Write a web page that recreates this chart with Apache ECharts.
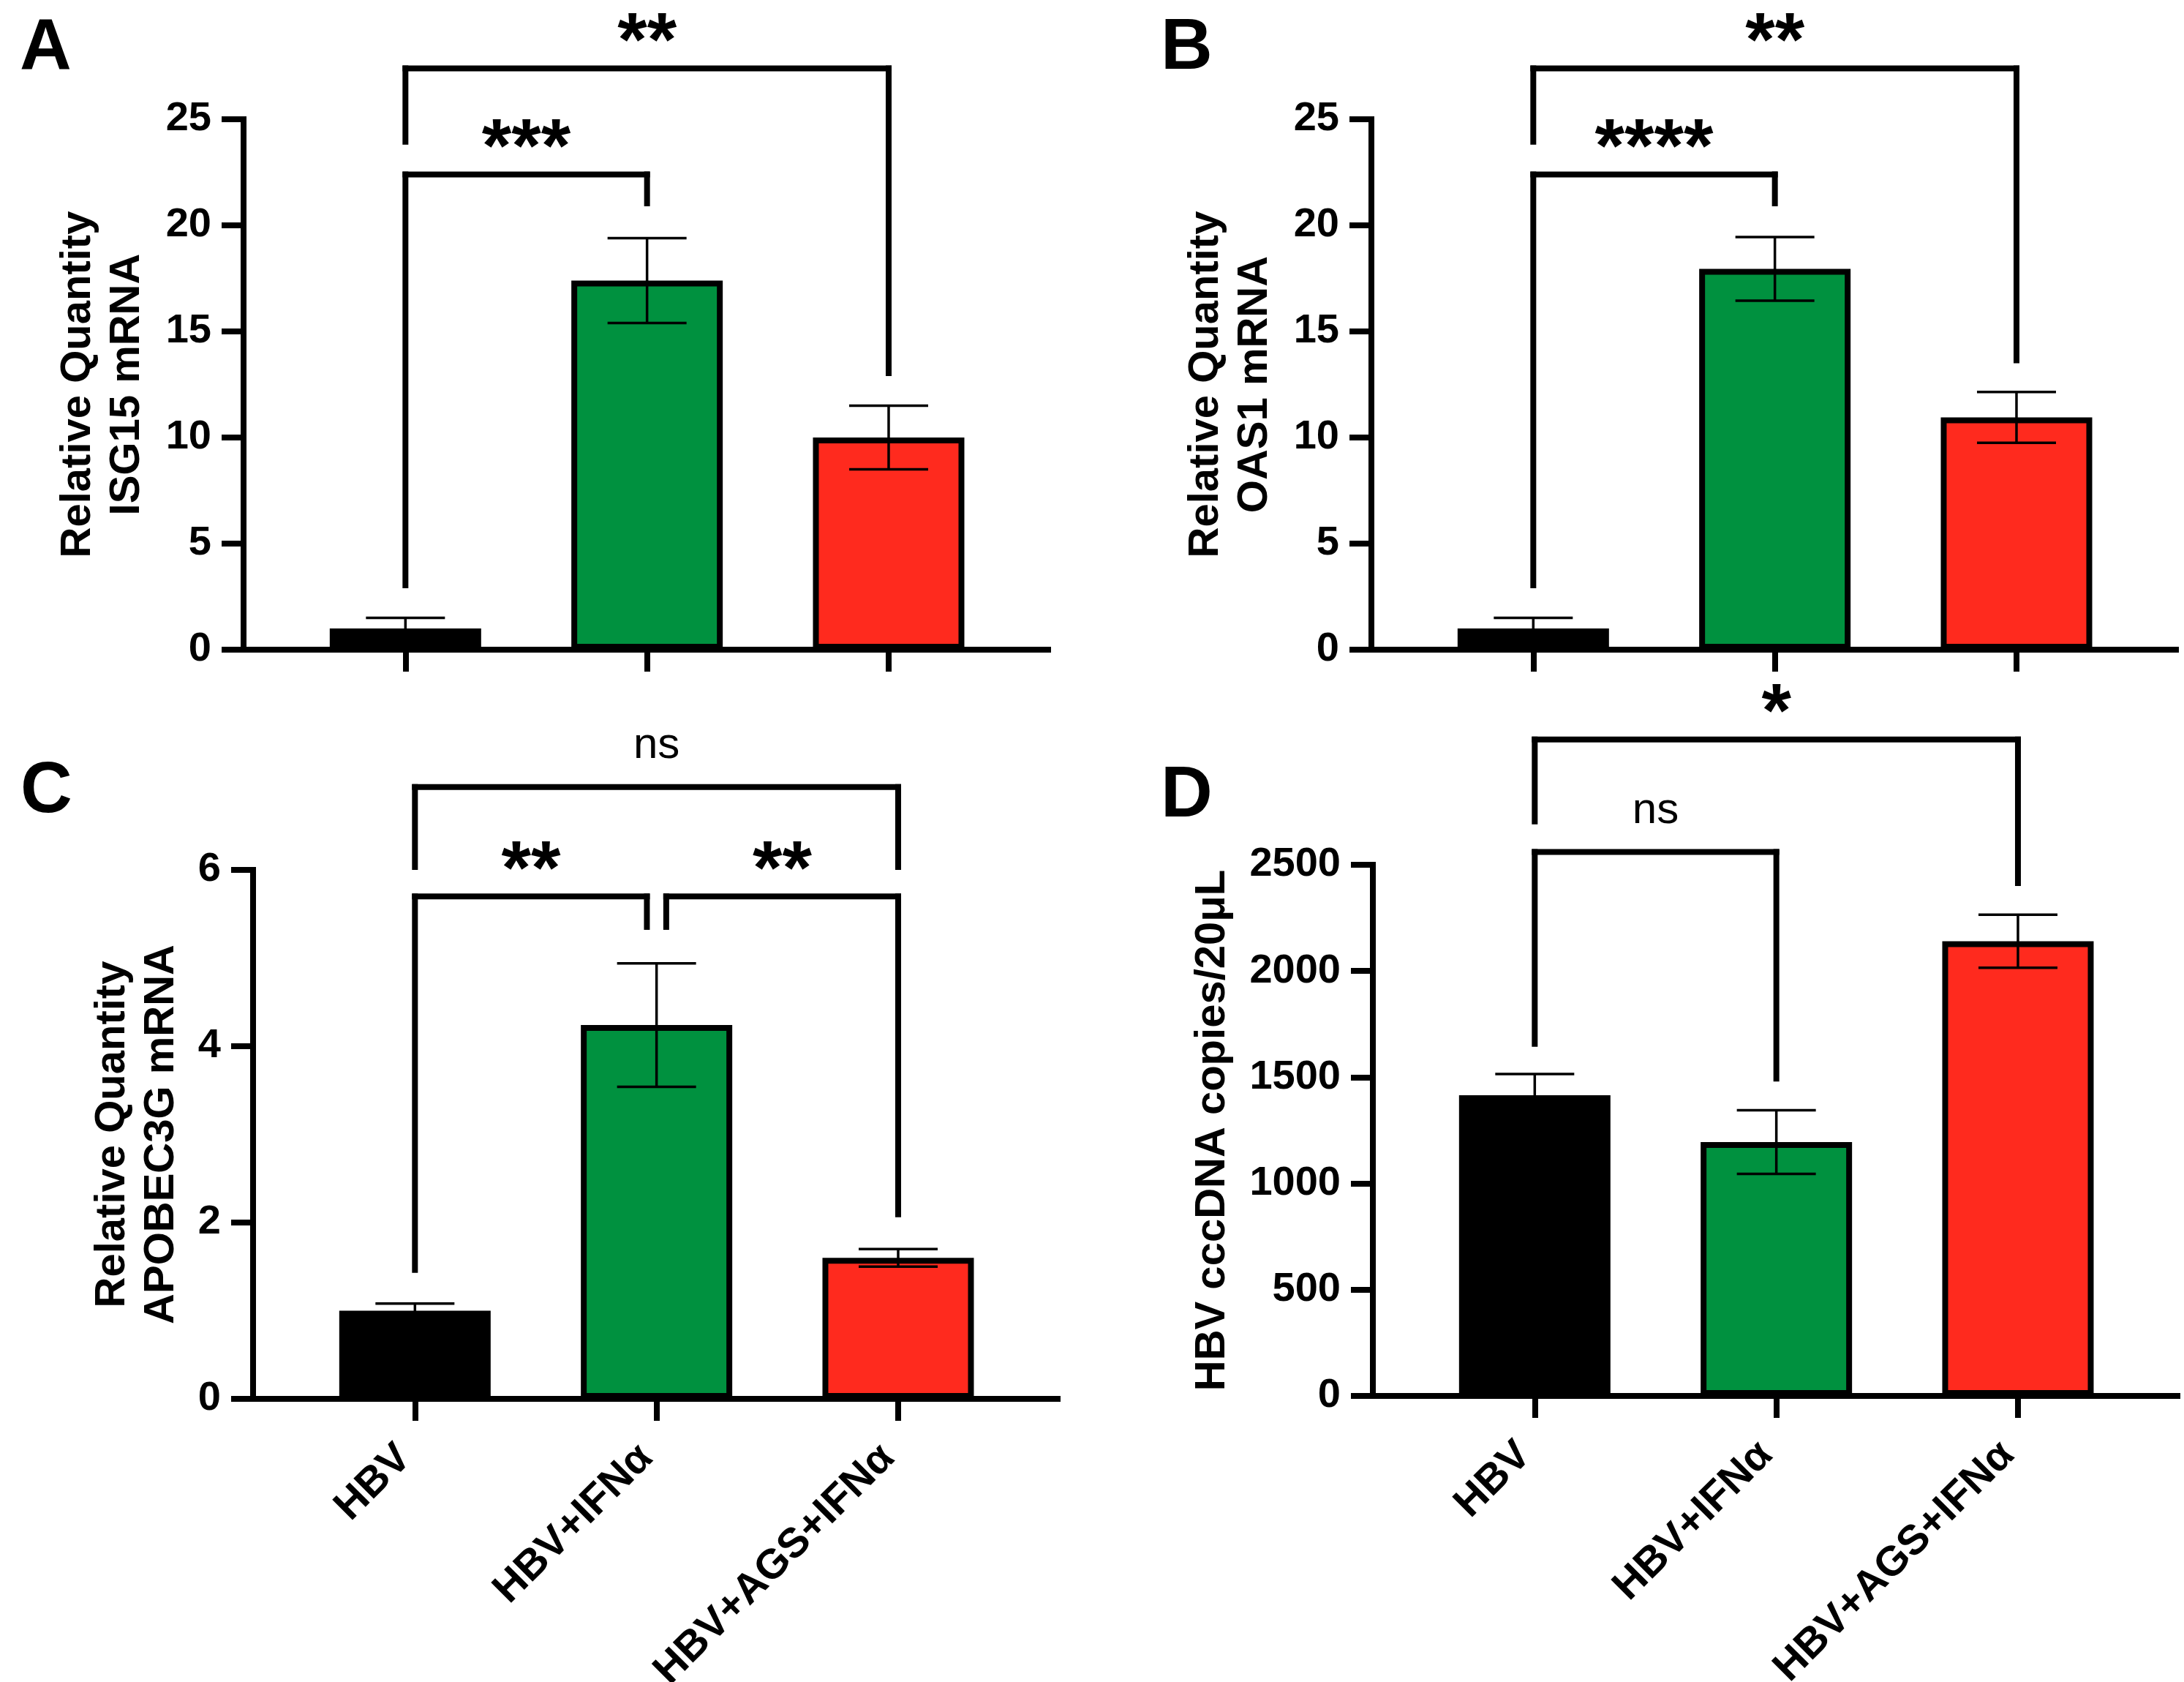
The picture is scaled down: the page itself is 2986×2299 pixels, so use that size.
<!DOCTYPE html>
<html>
<head>
<meta charset="utf-8">
<script src="https://cdn.jsdelivr.net/npm/echarts@6/dist/echarts.min.js"></script>
<style>
  html, body { margin: 0; padding: 0; background: #fff; }
  #chart { width: 2986px; height: 2299px; }
</style>
</head>
<body>
<div id="chart"></div>
<script>
// groups on the x axis (same in every panel)
var groups = ['HBV', 'HBV+IFNα', 'HBV+AGS+IFNα'];
var groupColors = ['#000000', '#00913f', '#ff2a1e'];

// A - ISG15
var isg15Mean = [1.0, 17.4, 10.0];
var isg15Err = [0.5, 2.0, 1.5];
// B - OAS1
var oas1Mean = [1.0, 17.95, 10.95];
var oas1Err = [0.5, 1.5, 1.2];
// C - APOBEC3G
var apobecMean = [1.0, 4.24, 1.6];
var apobecErr = [0.08, 0.7, 0.1];
// D - cccDNA
var cccMean = [1415, 1195, 2140];
var cccErr = [100, 150, 125];

// significance brackets: [xFrom, xTo, yBar, yEndFrom, yEndTo]
var isg15Brackets = [[0, 2, 27.4, 23.8, 12.9], [0, 1, 22.4, 2.9, 20.9]];
var isg15Signif = ['**', '***'];
var oas1Brackets = [[0, 2, 27.4, 23.8, 13.5], [0, 1, 22.4, 2.9, 20.9]];
var oas1Signif = ['**', '****'];
var apobecBrackets = [[0, 2, 6.94, 6.0, 6.0], [0, 0.96, 5.7, 1.43, 5.32], [1.04, 2, 5.7, 5.32, 2.06]];
var apobecSignif = ['ns', '**', '**'];
var cccBrackets = [[0, 2, 3090, 2690, 2400], [0, 1, 2560, 1643, 1480]];
var cccSignif = ['*', 'ns'];

// y axis ticks [min, max, interval]
var ticksA = [0, 25, 5];
var ticksC = [0, 6, 2];
var ticksD = [0, 2500, 500];

var FONT = '"Liberation Sans", Arial, sans-serif';

var dom = document.getElementById('chart');
var myChart = echarts.init(dom, null, {renderer: 'canvas'});

// 每个面板的位置
var panels = [
	{left: 333, top: 163, bottom: 888, name: 'Relative Quantity\nISG15 mRNA', nameGap: 126, ticks: ticksA,
	 mean: isg15Mean, err: isg15Err, brackets: isg15Brackets, signif: isg15Signif, labels: false},
	{left: 1875, top: 163, bottom: 888, name: 'Relative Quantity\nOAS1 mRNA', nameGap: 126, ticks: ticksA,
	 mean: oas1Mean, err: oas1Err, brackets: oas1Brackets, signif: oas1Signif, labels: false},
	{left: 346, top: 1189, bottom: 1912, name: 'Relative Quantity\nAPOBEC3G mRNA', nameGap: 92, ticks: ticksC,
	 mean: apobecMean, err: apobecErr, brackets: apobecBrackets, signif: apobecSignif, labels: true},
	{left: 1877, top: 1182, bottom: 1908, name: 'HBV cccDNA copies/20μL', nameGap: 186, ticks: ticksD,
	 mean: cccMean, err: cccErr, brackets: cccBrackets, signif: cccSignif, labels: true}
];

var grids = [], xAxes = [], yAxes = [], series = [];

panels.forEach(function (p, i) {
	grids.push({
		left: p.left, top: p.top, width: 1100, height: p.bottom - p.top,
		containLabel: false, outerBoundsMode: 'none'
	});

	xAxes.push({
		gridIndex: i,
		type: 'value',
		min: -0.67,
		max: 2.66,
		splitLine: {show: false},
		axisLine: {onZero: false, lineStyle: {color: '#000', width: 8, cap: 'square'}},
		axisTick: {show: true, length: 30, customValues: [0, 1, 2], lineStyle: {color: '#000', width: 8}},
		axisLabel: {
			show: p.labels,
			customValues: [0, 1, 2],
			rotate: 45,
			margin: 58,
			padding: [0, 20, 0, 0],
			color: '#000',
			fontFamily: FONT,
			fontWeight: 'bold',
			fontSize: 57,
			formatter: function (v) { return groups[v]; }
		}
	});

	yAxes.push({
		gridIndex: i,
		type: 'value',
		min: p.ticks[0],
		max: p.ticks[1],
		interval: p.ticks[2],
		name: p.name,
		nameLocation: 'middle',
		nameRotate: 90,
		nameGap: p.nameGap,
		nameTextStyle: {color: '#000', fontFamily: FONT, fontWeight: 'bold', fontSize: 58, lineHeight: 67},
		splitLine: {show: false},
		axisLine: {show: true, onZero: false, lineStyle: {color: '#000', width: 8, cap: 'square'}},
		axisTick: {show: true, length: 30, lineStyle: {color: '#000', width: 8}},
		axisLabel: {
			color: '#000', fontFamily: FONT, fontWeight: 'bold', fontSize: 56, margin: 44,
			formatter: function (v) { return String(v); }
		}
	});

	// 柱子
	series.push({
		type: 'bar',
		xAxisIndex: i,
		yAxisIndex: i,
		barWidth: 207,
		z: 2,
		data: p.mean.map(function (v, k) {
			return {value: [k, v], itemStyle: {color: groupColors[k]}};
		}),
		itemStyle: {borderColor: '#000', borderWidth: 8}
	});

	// 误差线
	series.push({
		type: 'custom',
		xAxisIndex: i,
		yAxisIndex: i,
		z: 5,
		data: p.mean.map(function (v, k) { return [k, v - p.err[k], v + p.err[k]]; }),
		renderItem: function (params, api) {
			var lo = api.coord([api.value(0), api.value(1)]);
			var hi = api.coord([api.value(0), api.value(2)]);
			var half = 54;
			var st = {stroke: '#000', lineWidth: 3.5};
			return {
				type: 'group',
				children: [
					{type: 'line', shape: {x1: lo[0], y1: lo[1], x2: hi[0], y2: hi[1]}, style: st},
					{type: 'line', shape: {x1: hi[0] - half, y1: hi[1], x2: hi[0] + half, y2: hi[1]}, style: st},
					{type: 'line', shape: {x1: lo[0] - half, y1: lo[1], x2: lo[0] + half, y2: lo[1]}, style: st}
				]
			};
		}
	});

	// 显著性标记
	var signif = p.signif;
	series.push({
		type: 'custom',
		xAxisIndex: i,
		yAxisIndex: i,
		z: 6,
		clip: false,
		data: p.brackets,
		renderItem: function (params, api) {
			var x0 = api.value(0), x1 = api.value(1), yb = api.value(2);
			var a = api.coord([x0, api.value(3)]);
			var b = api.coord([x0, yb]);
			var c = api.coord([x1, yb]);
			var d = api.coord([x1, api.value(4)]);
			var txt = signif[params.dataIndex];
			var isNs = txt === 'ns';
			var st = {stroke: '#000', lineWidth: 8, lineCap: 'butt'};
			return {
				type: 'group',
				children: [
					{type: 'line', shape: {x1: a[0], y1: a[1], x2: b[0], y2: b[1] - 4}, style: st},
					{type: 'line', shape: {x1: b[0] - 4, y1: b[1], x2: c[0] + 4, y2: c[1]}, style: st},
					{type: 'line', shape: {x1: c[0], y1: c[1] - 4, x2: d[0], y2: d[1]}, style: st},
					{
						type: 'text',
						style: {
							x: (b[0] + c[0]) / 2,
							y: isNs ? b[1] - 56 : b[1] - 32,
							text: txt,
							align: 'center',
							verticalAlign: 'middle',
							fill: '#000',
							font: (isNs ? 'normal 60px ' : 'bold 104px ') + FONT
						}
					}
				]
			};
		}
	});
});

var option = {
	backgroundColor: '#fff',
	animation: false,
	grid: grids,
	xAxis: xAxes,
	yAxis: yAxes,
	series: series,
	graphic: [
		{type: 'text', left: 27, top: 18, style: {text: 'A', font: 'bold 98px ' + FONT, fill: '#000'}},
		{type: 'text', left: 1587, top: 18, style: {text: 'B', font: 'bold 98px ' + FONT, fill: '#000'}},
		{type: 'text', left: 28, top: 1034, style: {text: 'C', font: 'bold 98px ' + FONT, fill: '#000'}},
		{type: 'text', left: 1587, top: 1040, style: {text: 'D', font: 'bold 98px ' + FONT, fill: '#000'}}
	]
};

myChart.setOption(option);
</script>
</body>
</html>
